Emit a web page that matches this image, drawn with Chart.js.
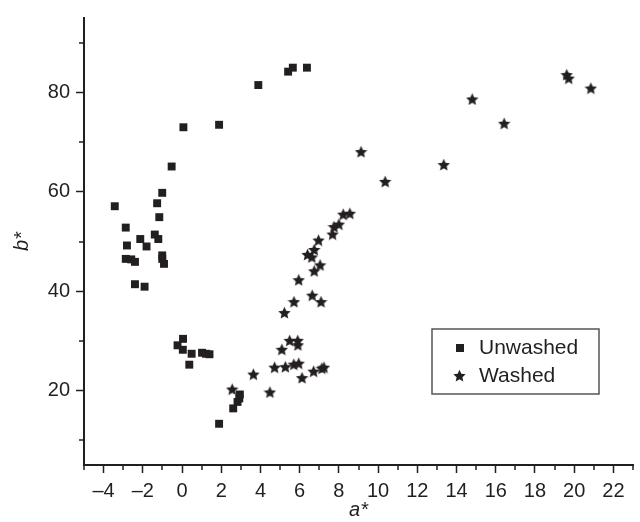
<!DOCTYPE html>
<html>
<head>
<meta charset="utf-8">
<script src="https://cdn.jsdelivr.net/npm/chart.js@4/dist/chart.umd.min.js"></script>
<style>
  html, body { margin:0; padding:0; background:#fff; }
  #wrap { width:640px; height:522px; }
</style>
</head>
<body>
<div id="wrap"><canvas id="chart" width="640" height="522"></canvas></div>
<script>
// ---------- data ----------
const unwashedA = [-3.43,-2.87,-2.81,-2.87,-2.59,-2.40,-2.13,-1.81,-2.40,-1.91,-1.39,-1.21,-1.27,-1.16,-1.01,-1.01,-1.01,-0.92,-0.53,0.07,1.89,3.89,5.41,5.65,6.37,
                   0.05,-0.23,0.04,0.49,0.37,1.02,1.22,1.40,2.95,2.92,2.83,2.61,1.89];
const unwashedB = [57.1,52.8,49.2,46.5,46.4,45.9,50.5,49.0,41.4,40.9,51.4,50.5,57.7,54.9,59.8,47.2,46.5,45.5,65.1,73.0,73.5,81.5,84.2,85.0,85.0,
                   30.4,29.1,28.2,27.4,25.2,27.6,27.4,27.3,19.2,18.4,17.7,16.4,13.3];

const washedA = [2.56,3.64,4.48,4.72,5.27,5.70,5.95,6.12,6.71,7.13,7.24,5.09,5.49,5.90,5.91,5.22,5.71,6.64,7.09,5.95,6.74,7.04,
                 6.40,6.62,6.74,6.96,7.68,7.75,8.00,8.22,8.56,9.13,10.36,13.35,14.80,16.43,19.62,19.72,20.85];
const washedB = [20.3,23.3,19.7,24.7,24.8,25.3,25.5,22.6,23.9,24.5,24.7,28.3,30.1,30.1,29.2,35.7,37.9,39.2,37.9,42.3,44.1,45.3,
                 47.4,46.9,48.4,50.3,51.5,53.0,53.5,55.5,55.7,68.1,62.1,65.5,78.7,73.8,83.6,82.9,80.9];

const xTicks = [-4,-2,0,2,4,6,8,10,12,14,16,18,20,22];
const xMinorTicks = [-5,-3,-1,1,3,5,7,9,11,13,15,17,19,21,23];
const yTicks = [20,40,60,80];
const yMinorTicks = [10,30,50,70,90];

const seriesNames = ['Unwashed','Washed'];

// ---------- helpers ----------
const INK = '#231f20';
const FONT = "'Liberation Sans', Arial, Helvetica, sans-serif";

function toPoints(xs, ys){ return xs.map((x,i)=>({x:x, y:ys[i]})); }

function makeStar(size){
  const cv = document.createElement('canvas');
  cv.width = cv.height = size;
  const g = cv.getContext('2d');
  const c = size/2, R = size/2, r = R*0.47;
  g.beginPath();
  for(let i=0;i<10;i++){
    const rad = i%2 ? r : R;
    const a = -Math.PI/2 + i*Math.PI/5;
    g.lineTo(c + rad*Math.cos(a), c + 0.7 + rad*Math.sin(a));
  }
  g.closePath();
  g.fillStyle = INK;
  g.fill();
  return cv;
}
const starImg = makeStar(13);
const starLegend = makeStar(13);

// minor tick marks (Chart.js has no minor ticks)
const minorTicks = {
  id: 'minorTicks',
  afterDraw(chart){
    const {ctx, scales:{x, y}} = chart;
    ctx.save();
    ctx.strokeStyle = INK;
    ctx.lineWidth = 1.5;
    ctx.beginPath();
    xMinorTicks.forEach(v=>{
      const px = Math.round(x.getPixelForValue(v));
      ctx.moveTo(px, x.top); ctx.lineTo(px, x.top + 5);
    });
    yMinorTicks.forEach(v=>{
      const py = Math.round(y.getPixelForValue(v));
      ctx.moveTo(y.right, py); ctx.lineTo(y.right - 5, py);
    });
    ctx.stroke();
    ctx.restore();
  }
};

// boxed legend inside the plot
const boxLegend = {
  id: 'boxLegend',
  afterDraw(chart){
    const {ctx, chartArea:a} = chart;
    const left = a.left + 348, top = a.top + 311, w = 167, h = 65;
    ctx.save();
    ctx.strokeStyle = '#555';
    ctx.lineWidth = 1.5;
    ctx.strokeRect(left, top, w, h);
    ctx.fillStyle = INK;
    ctx.font = '21px ' + FONT;
    ctx.textBaseline = 'middle';
    const rows = [top + 19, top + 47];
    ctx.fillRect(left + 24, rows[0] - 4, 8, 8);
    ctx.drawImage(starLegend, left + 21, rows[1] - 7);
    ctx.fillText(seriesNames[0], left + 47, rows[0]);
    ctx.fillText(seriesNames[1], left + 47, rows[1]);
    ctx.restore();
  }
};

// ---------- chart ----------
const ctx = document.getElementById('chart').getContext('2d');

new Chart(ctx, {
  type: 'scatter',
  data: {
    datasets: [{
      label: seriesNames[0],
      data: toPoints(unwashedA, unwashedB),
      pointStyle: 'rect',
      pointRadius: 5.6,
      backgroundColor: INK,
      borderColor: INK,
      borderWidth: 0
    }, {
      label: seriesNames[1],
      data: toPoints(washedA, washedB),
      pointStyle: starImg,
      pointRadius: 6
    }]
  },
  options: {
    responsive: false,
    animation: false,
    devicePixelRatio: 1,
    layout: { padding: { top: 13, right: 1, left: 0, bottom: 0 } },
    plugins: {
      legend: { display: false },
      tooltip: { enabled: false }
    },
    scales: {
      x: {
        type: 'linear',
        min: -5, max: 23,
        afterBuildTicks: s => { s.ticks = xTicks.map(v=>({value:v})); },
        afterFit: s => { s.height = 57; },
        grid: { drawOnChartArea: false, tickLength: 8, tickColor: INK, tickWidth: 1.5 },
        border: { color: INK, width: 2 },
        ticks: {
          color: INK, padding: 6,
          font: { family: FONT, size: 20 },
          callback: v => (v < 0 ? '\u2013' + Math.abs(v) : v)
        },
        title: {
          display: true, text: 'a*', color: INK,
          font: { family: FONT, size: 20, style: 'italic' },
          padding: { top: 0, bottom: 0 }
        }
      },
      y: {
        type: 'linear',
        min: 5, max: 95,
        afterBuildTicks: s => { s.ticks = yTicks.map(v=>({value:v})); },
        afterFit: s => { s.width = 84; },
        grid: { drawOnChartArea: false, tickLength: 8, tickColor: INK, tickWidth: 1.5 },
        border: { color: INK, width: 2 },
        ticks: {
          color: INK, padding: 6,
          font: { family: FONT, size: 20 }
        },
        title: {
          display: true, text: 'b*', color: INK,
          font: { family: FONT, size: 20, style: 'italic' },
          padding: { top: 10, bottom: 0 }
        }
      }
    }
  },
  plugins: [minorTicks, boxLegend]
});
</script>
</body>
</html>
